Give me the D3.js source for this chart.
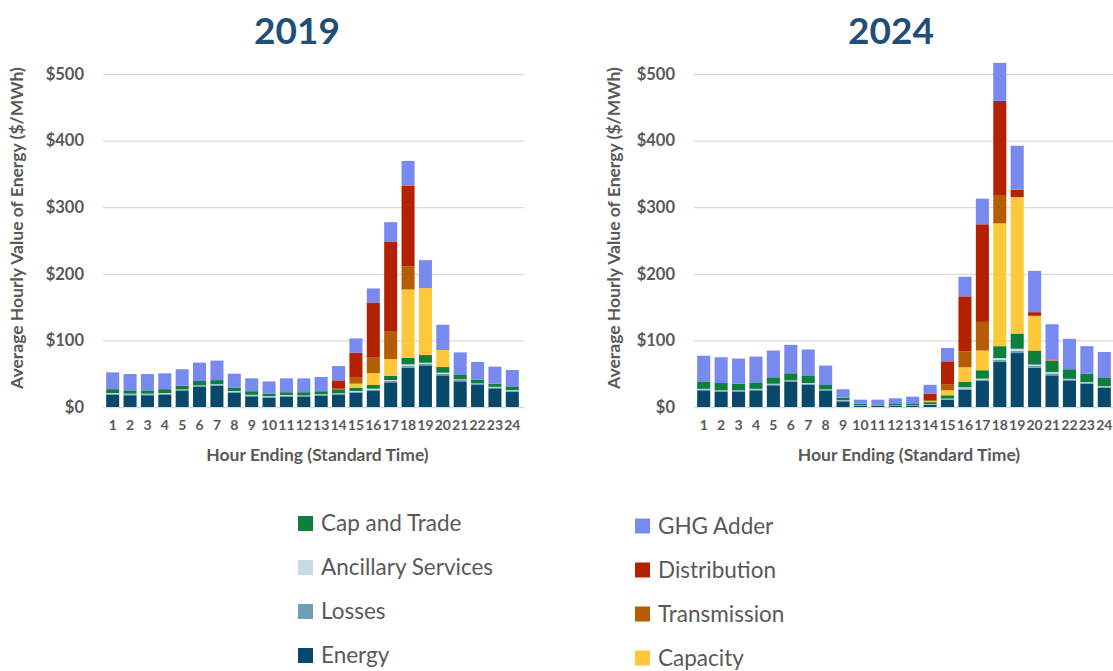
<!DOCTYPE html>
<meta charset="utf-8">
<head>
<style>
  body { margin: 0; background: #fff; }
  text { font-family: Lato, "Open Sans", sans-serif; }
</style>
</head>
<body>
<script src="https://d3js.org/d3.v7.min.js"></script>
<div id="chart"></div>
<script>

// hours and series
const hours = [1, 2, 3, 4, 5, 6, 7, 8, 9, 10, 11, 12, 13, 14, 15, 16, 17, 18, 19, 20, 21, 22, 23, 24];
const seriesKeys = ["Energy", "Losses", "Ancillary Services", "Cap and Trade", "Capacity", "Transmission", "Distribution", "GHG Adder"];
const seriesColors = ["#08496b", "#6e9fb4", "#c8dbe5", "#0b7f3b", "#ffc73a", "#b55d00", "#b32100", "#7889f0"];
const legendLeft = ["Cap and Trade", "Ancillary Services", "Losses", "Energy"];
const legendRight = ["GHG Adder", "Distribution", "Transmission", "Capacity"];
const yTicks = [0, 100, 200, 300, 400, 500];

// 2019 ($/MWh)
const energy2019       = [18.7, 17.7, 17.7, 18.7, 24, 30, 31.8, 21.7, 16, 14, 15.7, 15, 16.7, 18, 21.5, 24, 37, 59, 62.5, 47.5, 38.5, 33, 28, 23];
const losses2019       = [1.5, 1.5, 1.5, 1.5, 1.5, 1.5, 1.5, 1.5, 1.5, 1.5, 1.5, 1.5, 1.5, 1.5, 1.5, 2, 2, 3, 2.5, 2.5, 2, 1.5, 1.5, 1.5];
const ancillary2019    = [0.8, 0.8, 0.8, 0.8, 0.8, 0.8, 0.8, 0.8, 0.8, 0.8, 0.8, 0.8, 0.8, 1, 1, 1.5, 1.5, 2, 1.5, 1.5, 1, 0.8, 0.8, 0.8];
const capTrade2019     = [5.8, 5, 5, 5.8, 5.7, 6.7, 6.3, 4.8, 5.4, 3.9, 4.2, 4.9, 4.7, 6, 5, 5.5, 6.5, 10, 11.5, 8.5, 7.5, 5.7, 4.7, 5.7];
const capacity2019     = [0, 0, 0, 0, 0, 0, 0, 0, 0, 0, 0, 0, 0, 0, 6, 18, 25, 102.5, 100.5, 25.5, 0, 0, 0, 0];
const transmission2019 = [0, 0, 0, 0, 0, 0, 0, 0, 0, 0, 0, 0, 0, 1, 10, 23, 41, 35, 0, 0, 0, 0, 0, 0];
const distribution2019 = [0, 0, 0, 0, 0, 0, 0, 0, 0, 0, 0, 0, 0, 12.5, 36.5, 83, 135.5, 120.5, 0, 0, 0, 0, 0, 0];
const ghg2019          = [25.2, 24.5, 24.5, 23.7, 24.6, 27.7, 29.3, 21.2, 19.3, 18.2, 20.8, 20.8, 21.3, 21.5, 21.5, 21, 29, 37.5, 42, 38, 33, 26.7, 25.6, 24.6];

// 2024
const energy2024       = [25, 22.6, 22.6, 25, 32.6, 37.6, 33.6, 24, 8.5, 1.5, 1.5, 1.5, 1.5, 3, 10.5, 26, 39, 67.5, 81, 59, 47.5, 40, 35, 29];
const losses2024       = [1.5, 1.5, 1.5, 1.5, 1.5, 1.5, 1.5, 1.5, 1, 0.6, 0.6, 0.6, 0.6, 0.8, 1.3, 2, 2.2, 3.5, 3.5, 2.7, 3, 1.5, 1.5, 1.5];
const ancillary2024    = [0.8, 0.8, 0.8, 0.8, 0.8, 0.8, 0.8, 0.8, 0.6, 0.4, 0.3, 0.3, 0.3, 0.5, 0.8, 1.6, 1.4, 2.5, 3, 2, 2, 0.8, 0.8, 0.8];
const capTrade2024     = [10.3, 11.1, 10.1, 9.7, 9.7, 10.7, 10.7, 6.7, 3.9, 2.5, 1.6, 2.1, 2.1, 3, 5, 8, 12.6, 17.8, 22.8, 21.1, 16.7, 14.4, 12.7, 12.3];
const capacity2024     = [0, 0, 0, 0, 0, 0, 0, 0, 0, 0, 0, 0, 0, 1.5, 7.5, 22, 29.6, 184.4, 205, 52.2, 0.5, 0, 0, 0];
const transmission2024 = [0, 0, 0, 0, 0, 0, 0, 0, 0, 0, 0, 0, 0, 1.5, 8.5, 24, 43, 42.6, 0, 0, 0.5, 0, 0, 0];
const distribution2024 = [0, 0, 0, 0, 0, 0, 0, 0, 0, 0, 0, 0, 0, 10, 35, 82.5, 146.5, 141.4, 11, 5.4, 0.5, 0, 0, 0];
const ghg2024          = [39.4, 38.7, 37.7, 38.7, 40.2, 42.7, 39.7, 29.2, 12.6, 6, 7, 8.5, 11, 13, 20, 29.5, 38.5, 57, 66, 62, 53.5, 45.6, 41.3, 39.1];

const gray = "#595959";
const color = d3.scaleOrdinal().domain(seriesKeys).range(seriesColors);

const svg = d3.select("#chart")
  .append("svg")
    .attr("width", 1113)
    .attr("height", 671);

function rows(cols) {
  return hours.map((h, i) => {
    const r = {hour: h};
    seriesKeys.forEach((k, j) => r[k] = cols[j][i]);
    return r;
  });
}

function panel(title, data, left, right, titleX, yTitleX) {
  const x = d3.scaleBand()
    .domain(hours)
    .range([left, right])
    .paddingInner(0.25)
    .paddingOuter(0.125);

  const y = d3.scaleLinear()
    .domain([0, 500])
    .range([407, 74]);

  // gridlines + y labels
  const yAxis = svg.append("g")
    .attr("transform", `translate(${left - 1},0)`)
    .call(d3.axisLeft(y).tickValues(yTicks).tickSize(-(right - left + 4)).tickPadding(19).tickFormat(d => "$" + d));
  yAxis.select(".domain").remove();
  yAxis.selectAll("line").attr("stroke", "#d9d9d9").attr("stroke-width", 1.3);
  yAxis.selectAll("text")
    .attr("fill", gray)
    .style("font-size", "16.5px")
    .style("font-weight", "bold");

  const stacked = d3.stack().keys(seriesKeys)(data);

  svg.append("g")
    .selectAll("g")
    .data(stacked)
    .join("g")
      .attr("fill", d => color(d.key))
    .selectAll("rect")
    .data(d => d)
    .join("rect")
      .attr("x", d => x(d.data.hour))
      .attr("width", x.bandwidth())
      .attr("y", d => y(d[1]))
      .attr("height", d => y(d[0]) - y(d[1]));

  const xAxis = svg.append("g")
    .attr("transform", "translate(0,407)")
    .call(d3.axisBottom(x).tickSize(0).tickPadding(13));
  xAxis.select(".domain").remove();
  xAxis.selectAll("text")
    .attr("fill", gray)
    .style("font-size", "14px")
    .style("font-weight", "bold");

  svg.append("text")
    .attr("x", titleX)
    .attr("y", 44)
    .attr("text-anchor", "middle")
    .attr("fill", "#1f4e79")
    .style("font-size", "37px")
    .style("font-weight", "bold")
    .text(title);

  svg.append("text")
    .attr("transform", `translate(${yTitleX},228) rotate(-90)`)
    .attr("text-anchor", "middle")
    .attr("dy", "0.35em")
    .attr("fill", gray)
    .style("font-size", "17.5px")
    .style("font-weight", "bold")
    .text("Average Hourly Value of Energy ($/MWh)");

  svg.append("text")
    .attr("x", (left + right) / 2 + 5)
    .attr("y", 461)
    .attr("text-anchor", "middle")
    .attr("fill", gray)
    .style("font-size", "17.5px")
    .style("font-weight", "bold")
    .text("Hour Ending (Standard Time)");
}

panel("2019", rows([energy2019, losses2019, ancillary2019, capTrade2019, capacity2019, transmission2019, distribution2019, ghg2019]), 104, 521, 297, 17);
panel("2024", rows([energy2024, losses2024, ancillary2024, capTrade2024, capacity2024, transmission2024, distribution2024, ghg2024]), 695, 1113, 891, 614);

// legend
function legend(names, sqX, y0) {
  const g = svg.append("g");
  names.forEach((n, i) => {
    const cy = y0 + i * 44;
    g.append("rect")
      .attr("x", sqX).attr("y", cy - 7.5)
      .attr("width", 15).attr("height", 15)
      .attr("fill", color(n));
    g.append("text")
      .attr("x", sqX + 23).attr("y", cy)
      .attr("dy", "0.35em")
      .attr("fill", gray)
      .style("font-size", "22.5px")
      .text(n);
  });
}
legend(legendLeft, 298, 523.5);
legend(legendRight, 635, 526);

</script>
</body>
